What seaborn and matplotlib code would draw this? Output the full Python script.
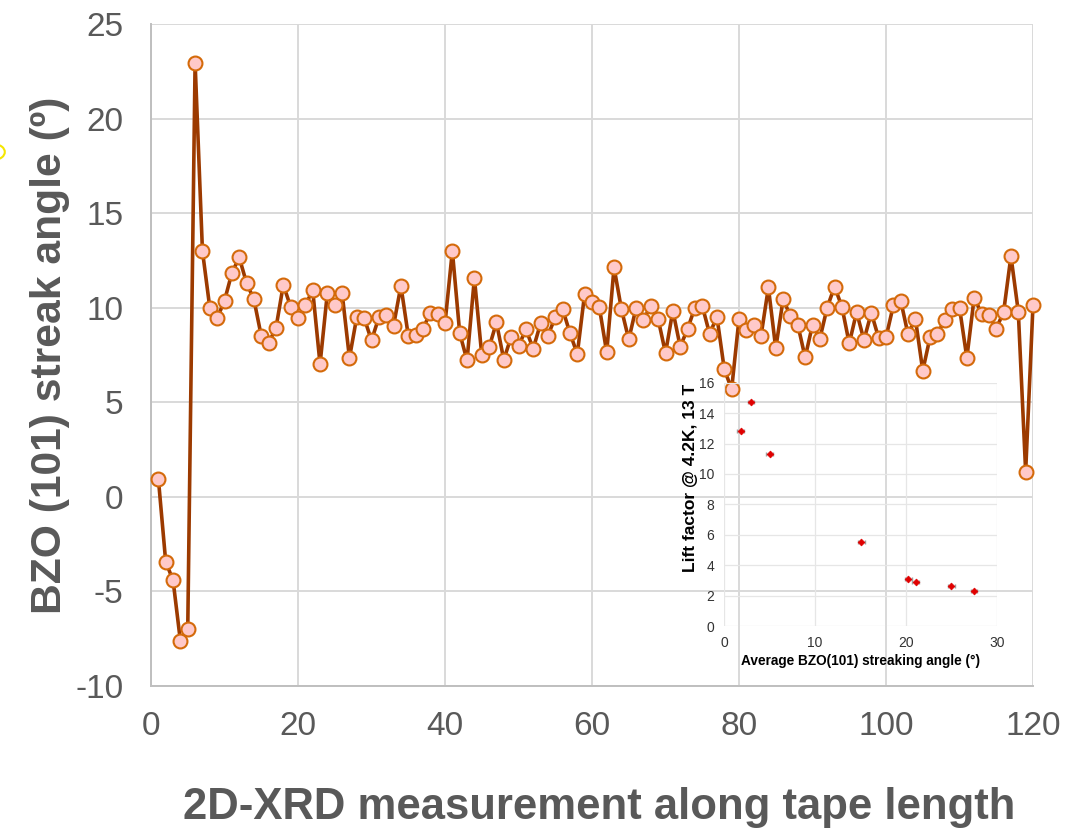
import numpy as np
import pandas as pd
import matplotlib
matplotlib.use("Agg")
import matplotlib.pyplot as plt
import seaborn as sns
from matplotlib.patches import Circle

# ---- data (main series) ----
position = list(range(1, 121))
streak_angle = [
    0.97, -3.43, -4.41, -7.62, -6.96, 22.95, 13.0, 10.0, 9.45, 10.37,
    11.83, 12.66, 11.31, 10.44, 8.51, 8.14, 8.92, 11.21, 10.05, 9.45,
    10.14, 10.92, 7.02, 10.80, 10.14, 10.78, 7.34, 9.52, 9.46, 8.27,
    9.49, 9.63, 9.05, 11.16, 8.53, 8.55, 8.89, 9.73, 9.66, 9.17,
    13.01, 8.66, 7.21, 11.57, 7.51, 7.90, 9.22, 7.25, 8.46, 7.95,
    8.87, 7.83, 9.17, 8.52, 9.50, 9.93, 8.66, 7.55, 10.74, 10.28,
    10.02, 7.64, 12.13, 9.93, 8.32, 10.00, 9.36, 10.10, 9.40, 7.60,
    9.84, 7.94, 8.87, 10.01, 10.10, 8.62, 9.52, 6.74, 5.70, 9.40,
    8.82, 9.08, 8.52, 11.07, 7.85, 10.44, 9.57, 9.10, 7.37, 9.10,
    8.36, 10.01, 11.12, 10.05, 8.11, 9.77, 8.29, 9.73, 8.40, 8.43,
    10.12, 10.38, 8.59, 9.42, 6.67, 8.45, 8.62, 9.35, 9.93, 10.00,
    7.35, 10.54, 9.68, 9.59, 8.90, 9.77, 12.73, 9.79, 1.33, 10.14,
]

# ---- data (inset) ----
avg_angle = [3.0, 1.83, 5.02, 15.09, 20.26, 21.06, 24.98, 27.5]
lift_factor = [14.71, 12.84, 11.33, 5.52, 3.07, 2.92, 2.63, 2.32]
angle_err = [0.35, 0.35, 0.35, 0.35, 0.35, 0.35, 0.35, 0.35]

x_ticks = [0, 20, 40, 60, 80, 100, 120]
y_ticks = [-10, -5, 0, 5, 10, 15, 20, 25]
inset_x_ticks = [0, 10, 20, 30]
inset_y_ticks = [0, 2, 4, 6, 8, 10, 12, 14, 16]

df = pd.DataFrame({"pos": position, "angle": streak_angle})
df_in = pd.DataFrame({"ang": avg_angle, "lf": lift_factor, "err": angle_err})

sns.set_theme(style="white")
plt.rcParams["font.family"] = ["Liberation Sans", "DejaVu Sans"]
plt.rcParams["axes.unicode_minus"] = False

fig = plt.figure(figsize=(10.88, 8.34), dpi=100)
ax = fig.add_axes([151 / 1088, 1 - 686 / 834, (1033 - 151) / 1088, (686 - 24) / 834])

grid_c = "#d9d9d9"
text_c = "#595959"

sns.lineplot(data=df, x="pos", y="angle", ax=ax, color="#9c3a00", lw=2.6,
             marker="o", markersize=10, markerfacecolor="#ffc9c9",
             markeredgecolor="#d46a0a", markeredgewidth=1.5, zorder=5,
             clip_on=False)

ax.set_xlim(0, 120)
ax.set_ylim(-10, 25)
ax.set_xticks(x_ticks)
ax.set_yticks(y_ticks)
ax.grid(True, color=grid_c, lw=1.4)
ax.set_axisbelow(True)
for s in ["top", "right"]:
    ax.spines[s].set_visible(False)
for s in ["left", "bottom"]:
    ax.spines[s].set_color("#bfbfbf")
    ax.spines[s].set_linewidth(1.4)
ax.tick_params(axis="both", length=0, labelsize=24, labelcolor=text_c)
ax.tick_params(axis="x", pad=18)
ax.tick_params(axis="y", pad=20)
ax.set_xlabel("2D-XRD measurement along tape length", fontsize=31.4,
              fontweight="bold", color=text_c, labelpad=34)
ax.xaxis.set_label_coords(0.508, -0.153)
ax.set_ylabel("BZO (101) streak angle (º)", fontsize=30.7,
              fontweight="bold", color=text_c, labelpad=4)

# ---- inset ----
axi = fig.add_axes([724 / 1088, 1 - 626 / 834, (997 - 724) / 1088, (626 - 382.7) / 834])
axi.patch.set_alpha(0.0)
axi.errorbar(df_in["ang"], df_in["lf"], xerr=df_in["err"], fmt="none",
             ecolor="#a0a0a0", elinewidth=1, capsize=1.5, zorder=3)
sns.scatterplot(data=df_in, x="ang", y="lf", ax=axi, color="#e00000",
                marker="D", s=12, edgecolor="#e00000", linewidth=0.5, zorder=4)
axi.set_xlim(0, 30)
axi.set_ylim(0, 16)
axi.set_xticks(inset_x_ticks)
axi.set_yticks(inset_y_ticks)
axi.grid(True, color="#e6e6e6", lw=0.9)
for s in axi.spines.values():
    s.set_visible(False)
axi.tick_params(axis="both", length=0, labelsize=10, labelcolor="#333333")
axi.tick_params(axis="x", pad=7)
axi.tick_params(axis="y", pad=7)
axi.set_xlabel("Average BZO(101) streaking angle (°)", fontsize=9.8,
               fontweight="bold", color="black", labelpad=3)
axi.set_ylabel("Lift factor @ 4.2K, 13 T", fontsize=12.5,
               fontweight="bold", color="black")
axi.yaxis.set_label_coords(-0.095, 0.61)

# small yellow artifact circle at left edge
fig.patches.append(Circle((-5 / 1088, 1 - 152 / 834), 0.009,
                          transform=fig.transFigure, fill=False,
                          edgecolor="#f5e600", lw=1.5))

fig.savefig("out.png", dpi=100)
